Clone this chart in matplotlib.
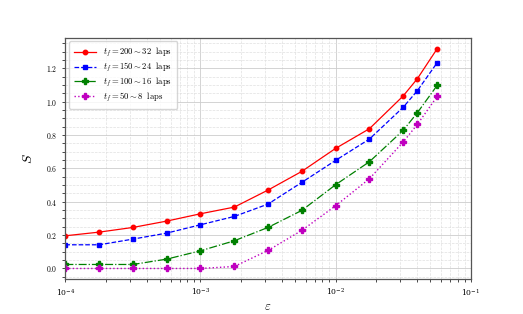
import matplotlib
matplotlib.use('Agg')
import matplotlib.pyplot as plt
from matplotlib.ticker import FuncFormatter, AutoMinorLocator

plt.rcParams['mathtext.fontset'] = 'cm'
plt.rcParams['font.family'] = 'serif'
plt.rcParams['font.serif'] = ['DejaVu Serif']

# ===== DATA =====
eps = [1.0e-4, 1.78e-4, 3.16e-4, 5.62e-4, 1.0e-3, 1.78e-3, 3.16e-3,
       5.62e-3, 1.0e-2, 1.78e-2, 3.16e-2, 4.03e-2, 5.65e-2]

s_200 = [0.196, 0.218, 0.246, 0.284, 0.328, 0.368, 0.470,
         0.582, 0.720, 0.838, 1.034, 1.138, 1.318]
s_150 = [0.142, 0.142, 0.176, 0.212, 0.262, 0.312, 0.386,
         0.516, 0.648, 0.776, 0.966, 1.066, 1.234]
s_100 = [0.024, 0.024, 0.024, 0.056, 0.106, 0.166, 0.246,
         0.348, 0.502, 0.640, 0.828, 0.934, 1.098]
s_50 = [0.0, 0.0, 0.0, 0.0, 0.0, 0.012, 0.108,
        0.228, 0.376, 0.538, 0.758, 0.864, 1.032]

labels = [r'$t_f = 200 \sim 32\ \ \mathrm{laps}$',
          r'$t_f = 150 \sim 24\ \ \mathrm{laps}$',
          r'$t_f = 100 \sim 16\ \ \mathrm{laps}$',
          r'$t_f = 50 \sim 8\ \ \mathrm{laps}$']
# ===== DATA =====

fig, ax = plt.subplots(figsize=(5.23, 3.14), dpi=100)

ax.plot(eps, s_200, 'r-o', lw=0.9, ms=3.2, label=labels[0])
ax.plot(eps, s_150, 'b--s', lw=0.9, ms=3.2, label=labels[1])
ax.plot(eps, s_100, 'g-.P', lw=0.9, ms=3.8, label=labels[2])
ax.plot(eps, s_50, 'm:P', lw=1.0, ms=3.8, label=labels[3])

ax.set_xscale('log')
ax.set_xlim(1e-4, 1e-1)
ax.yaxis.set_minor_locator(AutoMinorLocator(4))
ax.yaxis.set_major_formatter(FuncFormatter(lambda v, p: r'$%.1f$' % v))

ax.grid(which='major', color='#cccccc', lw=0.6)
ax.grid(which='minor', color='#e0e0e0', lw=0.5, ls='--')
ax.tick_params(which='both', labelsize=5.5, length=2, width=0.5)
for sp in ax.spines.values():
    sp.set_color('#555555')
    sp.set_linewidth(0.9)

ax.set_xlabel(r'$\varepsilon$', fontsize=9, labelpad=1)
ax.set_ylabel(r'$S$', fontsize=10, labelpad=8)

ax.legend(loc='upper left', fontsize=6.2, handlelength=2.6, borderpad=0.6,
          labelspacing=0.2, borderaxespad=0.4, framealpha=0.8,
          edgecolor='#cccccc')

fig.savefig('out.png', dpi=100)
